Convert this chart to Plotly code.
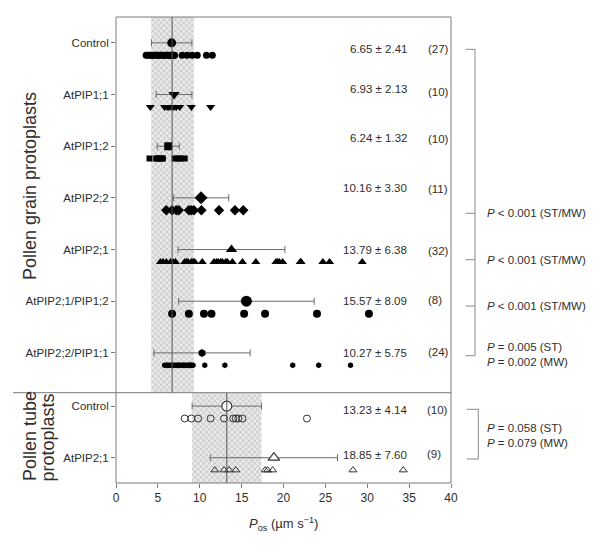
import plotly.graph_objects as go

# ---------------- data ----------------
grain_groups = ["Control", "AtPIP1;1", "AtPIP1;2", "AtPIP2;2", "AtPIP2;1",
                "AtPIP2;1/PIP1;2", "AtPIP2;2/PIP1;1"]
grain_means = [6.65, 6.93, 6.24, 10.16, 13.79, 15.57, 10.27]
grain_sds = [2.41, 2.13, 1.32, 3.30, 6.38, 8.09, 5.75]
grain_n = [27, 10, 10, 11, 32, 8, 24]

grain_ctrl_pts = [3.6, 3.8, 4.0, 4.2, 4.4, 4.6, 4.8, 5.0, 5.2, 5.4, 5.6, 5.8, 6.0, 6.2,
                  6.4, 6.5, 6.6, 6.7, 6.8, 6.9, 7.0, 7.9, 8.5, 9.1, 9.7, 10.8, 11.5]
pip11_pts = [4.1, 5.8, 6.1, 6.3, 6.6, 6.9, 7.2, 7.6, 9.0, 11.3]
pip12_pts = [4.0, 4.8, 5.0, 5.2, 5.4, 5.6, 7.0, 7.4, 7.7, 8.2]
pip22_pts = [6.0, 6.7, 7.2, 7.5, 8.7, 9.0, 9.3, 10.2, 12.3, 14.2, 15.2]
pip21_pts = [5.3, 5.6, 6.0, 6.5, 6.8, 7.1, 8.2, 8.4, 8.6, 9.0, 9.2, 9.4, 10.3, 11.7,
             12.0, 12.2, 12.5, 12.7, 13.1, 13.3, 13.9, 15.1, 16.7, 19.1, 19.3, 19.5,
             19.9, 22.0, 22.1, 24.7, 25.5, 29.4]
pip21_12_pts = [6.7, 8.7, 10.5, 11.4, 15.3, 17.8, 24.0, 30.2]
pip22_11_pts = [5.8, 6.0, 6.2, 6.4, 6.6, 6.8, 7.0, 7.2, 7.4, 7.6, 7.8, 8.0, 8.2, 8.4,
                8.6, 8.8, 8.9, 9.0, 9.2, 10.6, 13.0, 21.1, 24.2, 28.0]
grain_pts = [grain_ctrl_pts, pip11_pts, pip12_pts, pip22_pts, pip21_pts,
             pip21_12_pts, pip22_11_pts]

tube_groups = ["Control", "AtPIP2;1"]
tube_means = [13.23, 18.85]
tube_sds = [4.14, 7.60]
tube_n = [10, 9]
tube_ctrl_pts = [8.2, 9.0, 9.8, 11.3, 12.9, 14.0, 14.3, 14.6, 15.1, 22.8]
tube_pip21_pts = [11.8, 12.9, 13.5, 14.3, 17.8, 18.1, 18.7, 28.3, 34.3]
tube_pts = [tube_ctrl_pts, tube_pip21_pts]

grain_band = [4.2, 9.3]
grain_ref = 6.7
tube_band = [9.09, 17.37]
tube_ref = 13.23

x_ticks = [0, 5, 10, 15, 20, 25, 30, 35, 40]

grain_p_texts = ["<i>P</i> < 0.001 (ST/MW)", "<i>P</i> < 0.001 (ST/MW)",
                 "<i>P</i> < 0.001 (ST/MW)",
                 "<i>P</i> = 0.005 (ST)<br><i>P</i> = 0.002 (MW)"]
tube_p_text = "<i>P</i> = 0.058 (ST)<br><i>P</i> = 0.079 (MW)"

# ---------------- styles ----------------
FONT = "Liberation Sans, Arial, sans-serif"
TXT = "#2e2e2e"
AX = "#7a7a7a"
ERR = "#6a6a6a"

grain_sym = ["circle", "triangle-down", "square", "diamond", "triangle-up",
             "circle", "hexagon"]
grain_pt_size = [7, 8, 6, 8, 8, 8, 6]
grain_mean_size = [9, 10, 8, 10, 10, 11, 8]
tube_sym = ["circle", "triangle-up"]

# page body has an 8px margin: compensate so the plot lands where intended
OFS = 8
W, H = 584, 529
L, R, T, B = 108, 141, 9, 54
PW, PH = W - L - R, H - T - B
PLOT_LEFT = OFS + L
PLOT_BOTTOM = OFS + H - B
split_py = 392.7
split = (PLOT_BOTTOM - split_py) / PH

def px(xp):
    return (xp - PLOT_LEFT) / PW

def py(yp):
    return (PLOT_BOTTOM - yp) / PH

OFF = 0.24
grain_range = [6.77, -0.5]
tube_range = [1.49, -0.26]

fig = go.Figure()

pattern = dict(shape="x", size=4, solidity=0.3, fgcolor="#b8b8b8", bgcolor="#e9e9e9")

# shaded bands
fig.add_trace(go.Scatter(
    x=[grain_band[0], grain_band[1], grain_band[1], grain_band[0], grain_band[0]],
    y=[grain_range[1], grain_range[1], grain_range[0], grain_range[0], grain_range[1]],
    fill="toself", fillpattern=pattern, fillcolor="#e9e9e9", line=dict(width=0),
    mode="lines", hoverinfo="skip", showlegend=False, xaxis="x", yaxis="y"))
fig.add_trace(go.Scatter(
    x=[tube_band[0], tube_band[1], tube_band[1], tube_band[0], tube_band[0]],
    y=[tube_range[1], tube_range[1], tube_range[0], tube_range[0], tube_range[1]],
    fill="toself", fillpattern=pattern, fillcolor="#e9e9e9", line=dict(width=0),
    mode="lines", hoverinfo="skip", showlegend=False, xaxis="x", yaxis="y2"))

# reference lines
fig.add_shape(type="line", xref="x", yref="y domain", x0=grain_ref, x1=grain_ref,
              y0=0, y1=1, line=dict(color="#555555", width=1))
fig.add_shape(type="line", xref="x", yref="y2 domain", x0=tube_ref, x1=tube_ref,
              y0=0, y1=1, line=dict(color="#555555", width=1))

# grain groups
for i, g in enumerate(grain_groups):
    fig.add_trace(go.Scatter(
        x=grain_pts[i], y=[i + OFF] * len(grain_pts[i]), mode="markers",
        marker=dict(symbol=grain_sym[i], size=grain_pt_size[i], color="black"),
        showlegend=False, xaxis="x", yaxis="y"))
    fig.add_trace(go.Scatter(
        x=[grain_means[i]], y=[i], mode="markers",
        marker=dict(symbol=grain_sym[i], size=grain_mean_size[i], color="black"),
        error_x=dict(type="data", array=[grain_sds[i]], color=ERR, thickness=1, width=3.5),
        showlegend=False, xaxis="x", yaxis="y"))

# tube groups
for i, g in enumerate(tube_groups):
    fig.add_trace(go.Scatter(
        x=tube_pts[i], y=[i + OFF] * len(tube_pts[i]), mode="markers",
        marker=dict(symbol=tube_sym[i] + "-open", size=7, color="#333333",
                    line=dict(width=1)),
        showlegend=False, xaxis="x", yaxis="y2"))
    fig.add_trace(go.Scatter(
        x=[tube_means[i]], y=[i], mode="markers",
        marker=dict(symbol=tube_sym[i], size=10, color="white",
                    line=dict(color="#333333", width=1.2)),
        error_x=dict(type="data", array=[tube_sds[i]], color=ERR, thickness=1, width=3.5),
        showlegend=False, xaxis="x", yaxis="y2"))

ann = []
VFS = 11.5
# value texts
grain_val_dy = [6, -6, -8, -10, 0, 0, 0]
grain_n_dy = [6, -3, -7, -9, 1, -1, -1]
for i in range(len(grain_groups)):
    ann.append(dict(x=35, y=i, xref="x", yref="y", xanchor="right", yanchor="middle",
                    yshift=-grain_val_dy[i], showarrow=False,
                    text=f"{grain_means[i]:.2f} ± {grain_sds[i]:.2f}",
                    font=dict(size=VFS, color=TXT, family=FONT)))
    ann.append(dict(x=37.05, y=i, xref="x", yref="y", xanchor="left", yanchor="middle",
                    yshift=-grain_n_dy[i], showarrow=False, text=f"({grain_n[i]})",
                    font=dict(size=VFS, color=TXT, family=FONT)))
tube_val_dy = [4, -3]
tube_n_dy = [4, -4]
for i in range(len(tube_groups)):
    ann.append(dict(x=35, y=i, xref="x", yref="y2", xanchor="right", yanchor="middle",
                    yshift=-tube_val_dy[i], showarrow=False,
                    text=f"{tube_means[i]:.2f} ± {tube_sds[i]:.2f}",
                    font=dict(size=VFS, color=TXT, family=FONT)))
    ann.append(dict(x=36.9, y=i, xref="x", yref="y2", xanchor="left", yanchor="middle",
                    yshift=-tube_n_dy[i], showarrow=False, text=f"({tube_n[i]})",
                    font=dict(size=VFS, color=TXT, family=FONT)))

# p-value texts
p_y = [213.3, 259.5, 305.5, 354]
for t, yy in zip(grain_p_texts, p_y):
    ann.append(dict(x=px(484.5), y=py(yy), xref="paper", yref="paper", xanchor="left",
                    yanchor="middle", showarrow=False, text=t, align="left",
                    font=dict(size=11.5, color=TXT, family=FONT)))
ann.append(dict(x=px(484.5), y=py(435.5), xref="paper", yref="paper", xanchor="left",
                yanchor="middle", showarrow=False, text=tube_p_text, align="left",
                font=dict(size=11.5, color=TXT, family=FONT)))

# panel titles
ann.append(dict(x=px(30), y=py(186), xref="paper", yref="paper", textangle=-90,
                xanchor="center", yanchor="middle",
                showarrow=False, text="Pollen grain protoplasts",
                font=dict(size=18, color=TXT, family=FONT)))
ann.append(dict(x=px(30), y=py(436), xref="paper", yref="paper", textangle=-90,
                xanchor="center", yanchor="middle",
                showarrow=False, text="Pollen tube",
                font=dict(size=18, color=TXT, family=FONT)))
ann.append(dict(x=px(47.5), y=py(438), xref="paper", yref="paper", textangle=-90,
                xanchor="center", yanchor="middle",
                showarrow=False, text="protoplasts",
                font=dict(size=18, color=TXT, family=FONT)))

# x axis title
ann.append(dict(x=0.5, y=py(524), xref="paper", yref="paper", showarrow=False,
                yanchor="middle",
                text="<i>P</i><sub>os</sub> (µm s<sup>−1</sup>)",
                font=dict(size=13, color=TXT, family=FONT)))

shapes = []
# frame & divider
shapes.append(dict(type="rect", xref="paper", yref="paper", x0=0, x1=1, y0=0, y1=1,
                   line=dict(color=AX, width=1)))
shapes.append(dict(type="line", xref="paper", yref="paper", x0=px(13), x1=1,
                   y0=split, y1=split, line=dict(color=AX, width=1)))
# brackets
BR = "#8a8a8a"
shapes.append(dict(type="line", xref="paper", yref="paper", x0=px(475), x1=px(475),
                   y0=py(49.3), y1=py(355.7), line=dict(color=BR, width=1)))
for yy in [49.3, 213.3, 259.7, 306, 355.7]:
    shapes.append(dict(type="line", xref="paper", yref="paper", x0=px(465.7), x1=px(475),
                       y0=py(yy), y1=py(yy), line=dict(color=BR, width=1)))
shapes.append(dict(type="line", xref="paper", yref="paper", x0=px(478.3), x1=px(478.3),
                   y0=py(409.3), y1=py(459), line=dict(color=BR, width=1)))
for yy in [409.3, 459]:
    shapes.append(dict(type="line", xref="paper", yref="paper", x0=px(466.7), x1=px(478.3),
                       y0=py(yy), y1=py(yy), line=dict(color=BR, width=1)))

for s in shapes:
    fig.add_shape(**s)

fig.update_layout(
    template="none",
    width=W, height=H, margin=dict(l=L, r=R, t=T, b=B, autoexpand=False),
    plot_bgcolor="white", paper_bgcolor="white",
    font=dict(family=FONT, color=TXT),
    showlegend=False,
    annotations=ann,
    xaxis=dict(range=[0, 40], domain=[0, 1], anchor="y2", tickvals=x_ticks,
               ticks="outside", ticklen=4, tickcolor=AX, showline=False,
               showgrid=False, zeroline=False, automargin=False,
               tickfont=dict(size=12, color=TXT, family=FONT)),
    yaxis=dict(range=grain_range, domain=[split, 1], anchor="x",
               tickvals=list(range(len(grain_groups))), ticktext=grain_groups,
               ticks="outside", ticklen=4, tickcolor=AX, showgrid=False,
               zeroline=False, showline=False, automargin=False,
               tickfont=dict(size=11.5, color=TXT, family=FONT)),
    yaxis2=dict(range=tube_range, domain=[0, split], anchor="x",
                tickvals=list(range(len(tube_groups))), ticktext=tube_groups,
                ticks="outside", ticklen=4, tickcolor=AX, showgrid=False,
                zeroline=False, showline=False, automargin=False,
                tickfont=dict(size=11.5, color=TXT, family=FONT)),
)

fig.write_html("out.html")
